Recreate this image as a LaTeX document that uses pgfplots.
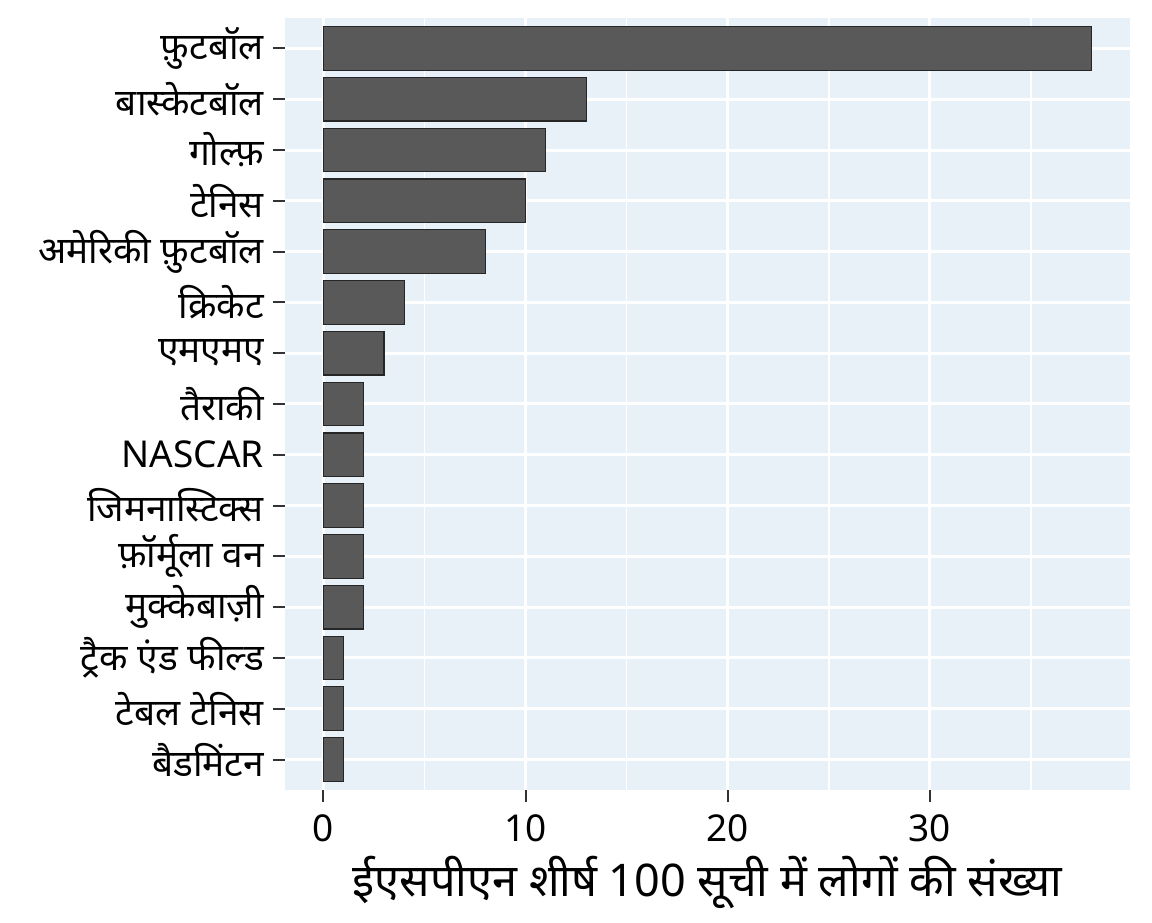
\documentclass[border=0pt]{standalone}
\usepackage{pgfplots}
\pgfplotsset{compat=1.18}
\usepackage{fontspec}
\setmainfont[Script=Devanagari]{Noto Sans}
\definecolor{panelbg}{RGB}{233,241,248}
\definecolor{barfill}{RGB}{89,89,89}
\definecolor{tickgray}{RGB}{51,51,51}
\begin{document}
\begin{tikzpicture}
\useasboundingbox (-142.5pt,-66pt) rectangle (433.5pt,395pt);
\begin{axis}[
  at={(0,0)}, anchor=south west,
  scale only axis, width=422.5pt, height=386pt,
  xmin=-1.9, xmax=39.9, ymin=0.4, ymax=15.6,
  axis background/.style={fill=panelbg},
  axis line style={draw=none},
  xbar, bar shift=0pt, bar width=0.86,
  xtick={0,10,20,30}, minor xtick={5,15,25,35},
  ytick={1,...,15},
  yticklabels={बैडमिंटन,टेबल टेनिस,ट्रैक एंड फील्ड,मुक्केबाज़ी,फ़ॉर्मूला वन,जिमनास्टिक्स,NASCAR,तैराकी,एमएमए,क्रिकेट,अमेरिकी फ़ुटबॉल,टेनिस,गोल्फ़,बास्केटबॉल,फ़ुटबॉल},
  grid=both,
  major grid style={white, line width=1.5pt},
  minor grid style={white, line width=0.8pt},
  tick align=outside, tick pos=left,
  major tick length=6pt, minor tick length=0pt,
  tick style={color=tickgray, line width=1pt},
  ticklabel style={font=\fontsize{18.5}{22}\selectfont, text=black},
  yticklabel style={xshift=-1pt},
  xticklabel style={yshift=-3pt},
  /pgf/number format/assume math mode=true,
  xlabel={ईएसपीएन शीर्ष 100 सूची में लोगों की संख्या},
  xlabel style={font=\fontsize{22.5}{26}\selectfont, yshift=0pt},
]
\addplot[fill=barfill, draw=black!85, line width=0.6pt] coordinates {
 (1,1) (1,2) (1,3) (2,4) (2,5) (2,6) (2,7) (2,8) (3,9) (4,10) (8,11) (10,12) (11,13) (13,14) (38,15)
};
\end{axis}
\end{tikzpicture}
\end{document}
